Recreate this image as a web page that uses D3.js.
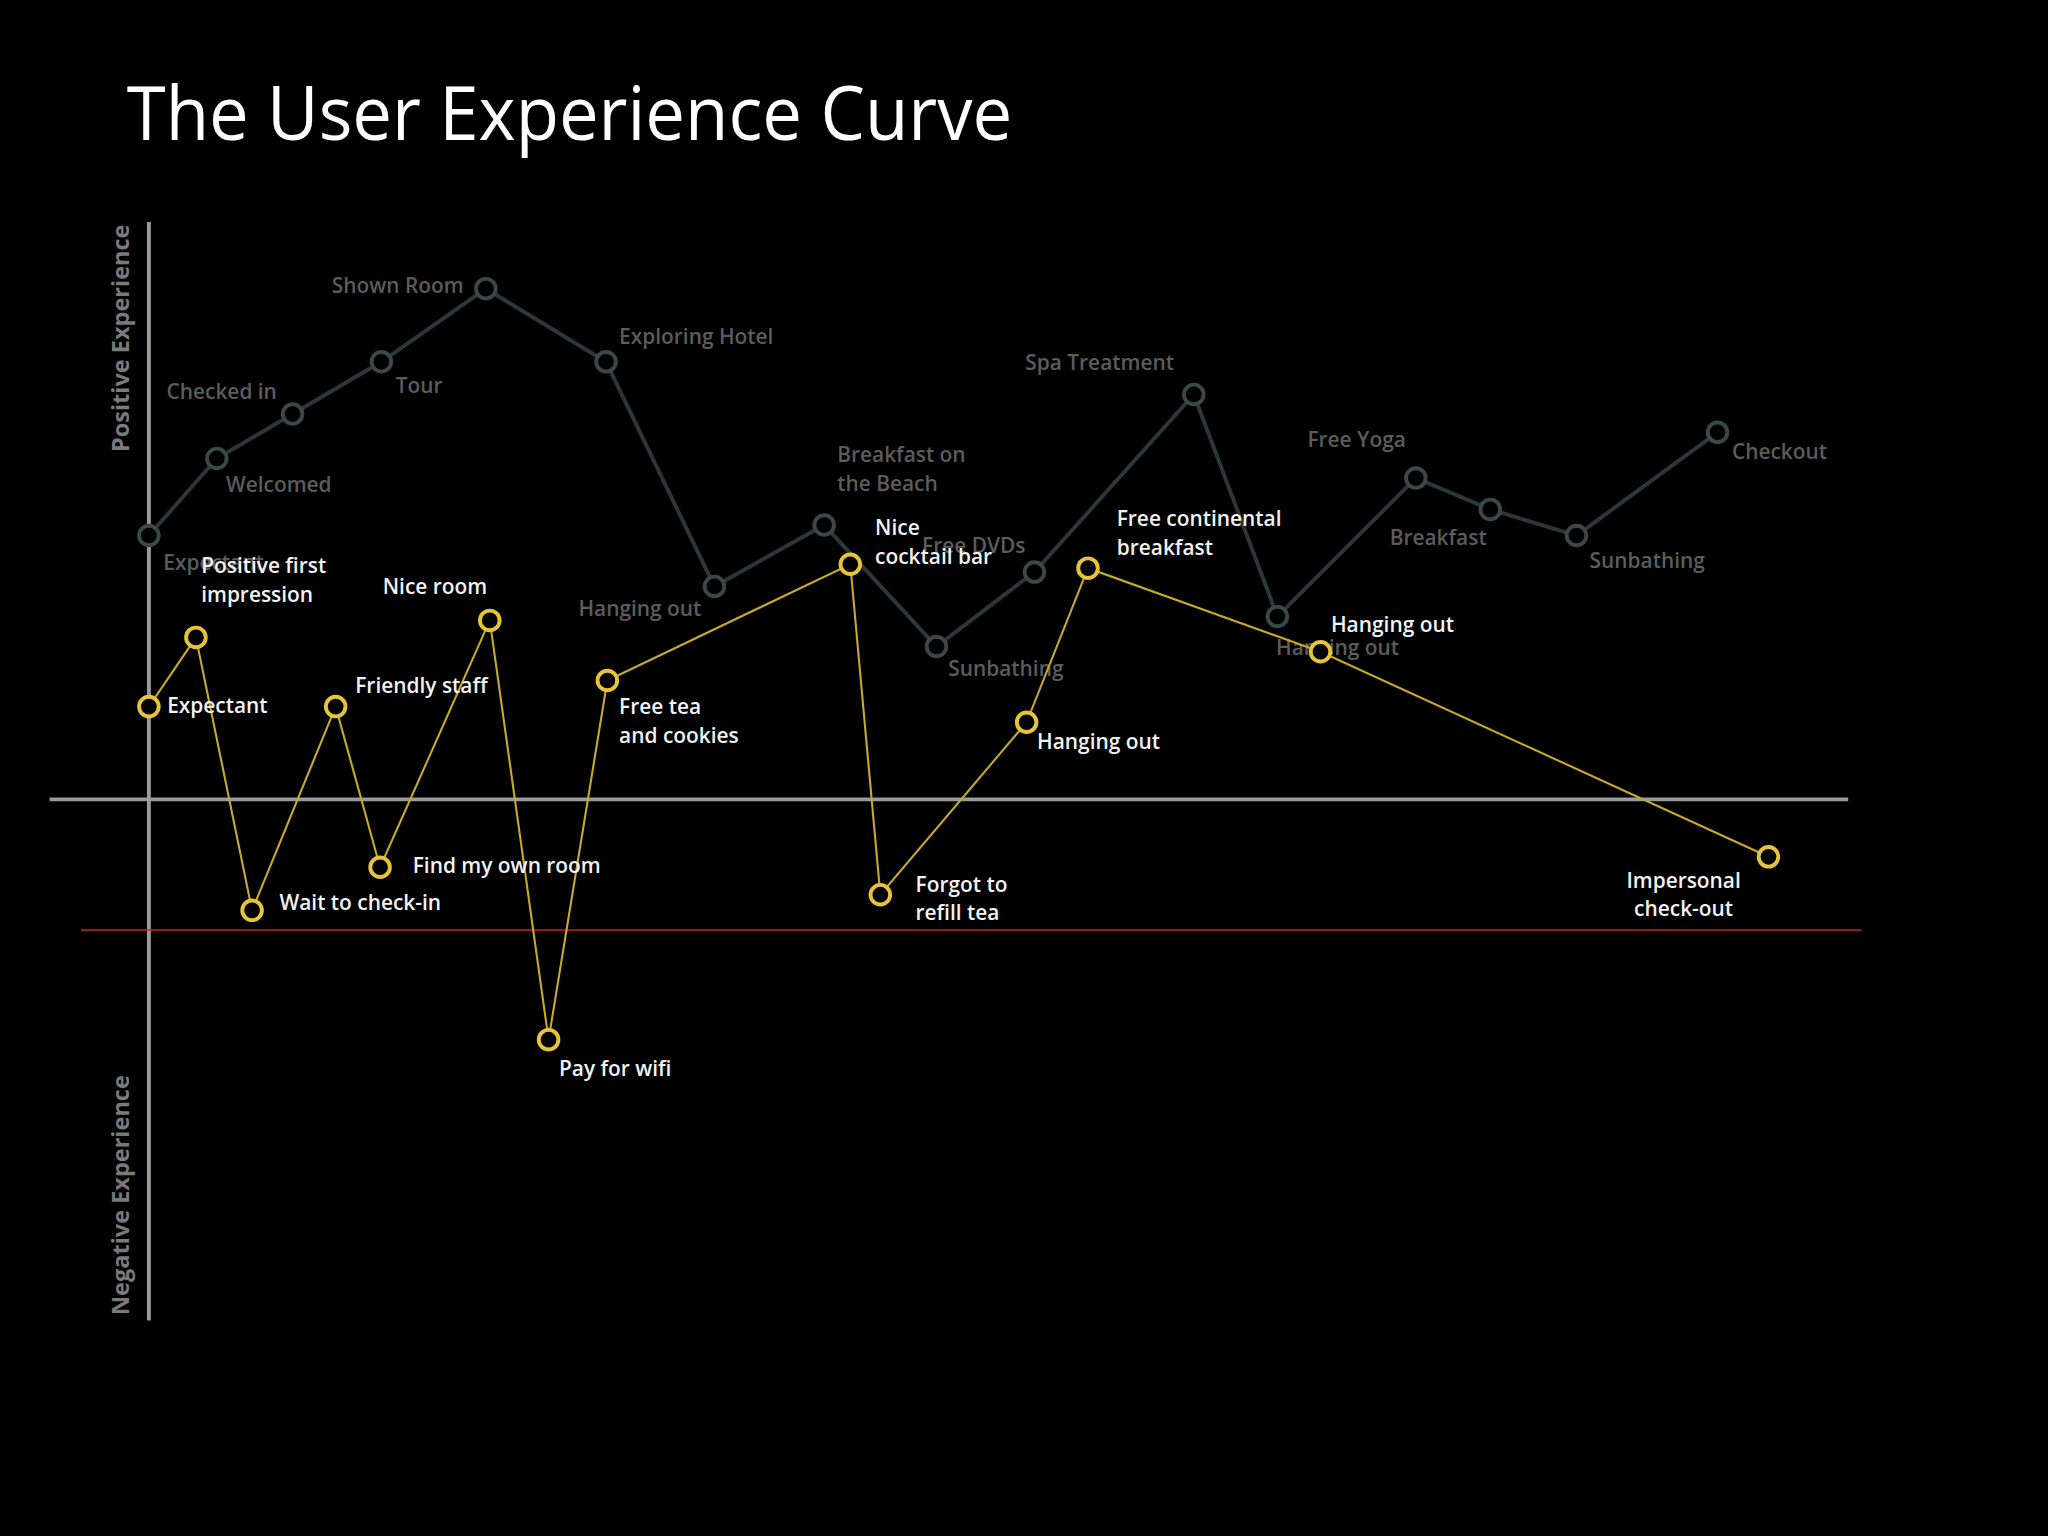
<!DOCTYPE html>
<html><head><meta charset="utf-8">
<script src="https://cdn.jsdelivr.net/npm/d3@7"></script>
<style>html,body{margin:0;background:#000;}svg{display:block;}</style>
</head><body>
<script>
// Data: time position (x units) and experience score (positive = good)
const idealTimes = [0,52,110,178,258,350,433,517,603,678,800,864,970,1027,1093,1201];
const idealScores = [202,261,295,335,391,335,163,210,117,174,310,140,246,222,202,281];
const idealLabels = ["Expectant","Welcomed","Checked in","Tour","Shown Room","Exploring Hotel","Hanging out","Breakfast on|the Beach","Sunbathing","Free DVDs","Spa Treatment","Hanging out","Free Yoga","Breakfast","Sunbathing","Checkout"];
const actualTimes = [0,36,79,143,177,261,306,351,537,560,672,719,897,1240];
const actualScores = [71,124,-85,71,-52,137,-184,91,180,-73,59,177,113,-44];
const actualLabels = ["Expectant","Positive first|impression","Wait to check-in","Friendly staff","Find my own room","Nice room","Pay for wifi","Free tea|and cookies","Nice|cocktail bar","Forgot to|refill tea","Hanging out","Free continental|breakfast","Hanging out","Impersonal|check-out"];
const thresholdScore = -100;

// label placement (layout)
const idealOff = [[11,22,"start"],[7,21,"start"],[-12,-16,"end"],[11,19,"start"],[-17,-1,"end"],[10,-18,"start"],[-10,18,"end"],[10,-53,"start"],[9,18,"start"],[-86,-19,"start"],[-129,-23,"start"],[-1,25,"start"],[-83,-28,"start"],[-77,23,"start"],[10,20,"start"],[11,16,"start"]];
const actualOff = [[14,0,"start"],[4,-54,"start"],[21,-5,"start"],[15,-15,"start"],[25,0,"start"],[-2,-25,"end"],[8,23,"start"],[9,21,"start"],[19,-27,"start"],[27,-7,"start"],[8,16,"start"],[22,-37,"start"],[8,-20,"start"],[-65,19,"middle"]];

const svg = d3.select("body").append("svg")
  .attr("width",2048).attr("height",1536).attr("viewBox","0 0 1568 1176");
svg.append("rect").attr("width",1568).attr("height",1176).attr("fill","#000");

const x = d3.scaleLinear().domain([0,1201]).range([114,1315]);
const y = d3.scaleLinear().domain([0,400]).range([612,212]);
const font = "'Open Sans', Lato, sans-serif";

svg.append("text").attr("x",97).attr("y",107).attr("fill","#fff")
  .attr("font-family",font).attr("font-size",58).attr("textLength",678).attr("lengthAdjust","spacingAndGlyphs")
  .text("The User Experience Curve");

// axes
svg.append("line").attr("x1",x(0)).attr("x2",x(0)).attr("y1",170).attr("y2",1011).attr("stroke","#9a9a9a").attr("stroke-width",3);
svg.append("line").attr("x1",38).attr("x2",1415).attr("y1",y(0)).attr("y2",y(0)).attr("stroke","#9a9a9a").attr("stroke-width",3);
svg.append("line").attr("x1",62).attr("x2",1425).attr("y1",y(thresholdScore)).attr("y2",y(thresholdScore)).attr("stroke","#d0201c").attr("stroke-width",1.2);

svg.append("text").attr("transform","translate(99,259) rotate(-90)").attr("text-anchor","middle")
  .attr("fill","#7a7a7a").attr("font-family",font).attr("font-weight",700).attr("font-size",18).text("Positive Experience");
svg.append("text").attr("transform","translate(99,915) rotate(-90)").attr("text-anchor","middle")
  .attr("fill","#7a7a7a").attr("font-family",font).attr("font-weight",700).attr("font-size",18).text("Negative Experience");

function series(times, scores, labels, offs, lineC, ptC, txtC, lw){
  const pts = times.map((t,i)=>[x(t), y(scores[i])]);
  svg.append("path").attr("d",d3.line()(pts)).attr("fill","none").attr("stroke",lineC).attr("stroke-width",lw);
  svg.selectAll(null).data(pts).enter().append("circle")
    .attr("cx",d=>d[0]).attr("cy",d=>d[1]).attr("r",7.5)
    .attr("fill","#000").attr("stroke",ptC).attr("stroke-width",3);
  labels.forEach((l,i)=>{
    const t = svg.append("text").attr("x",pts[i][0]+offs[i][0]).attr("y",pts[i][1]+offs[i][1])
      .attr("text-anchor",offs[i][2]).attr("dominant-baseline","middle")
      .attr("fill",txtC).attr("font-family",font).attr("font-weight",600).attr("font-size",16);
    l.split("|").forEach((s,j)=>t.append("tspan").attr("x",pts[i][0]+offs[i][0]).attr("dy",j?22:0).text(s));
  });
}
series(idealTimes, idealScores, idealLabels, idealOff, "#2c3838", "#3a4848", "#5c5c5c", 3);
series(actualTimes, actualScores, actualLabels, actualOff, "#c8aa2a", "#e6c43a", "#f2f2f2", 1.6);
</script>
</body></html>
